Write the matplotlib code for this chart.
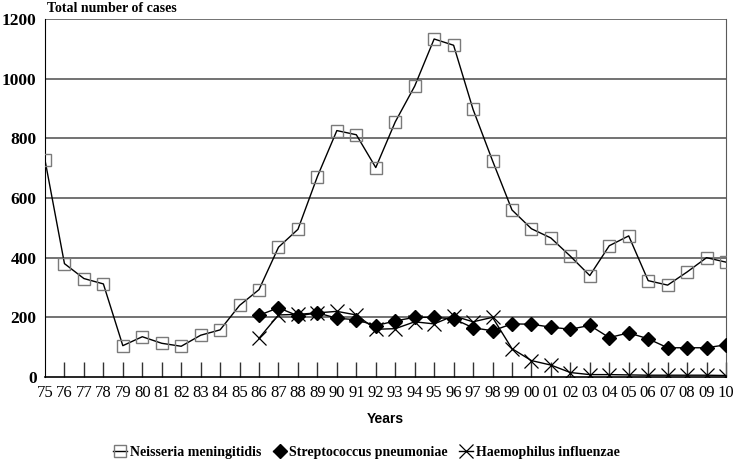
import matplotlib
matplotlib.use('Agg')
from matplotlib import pyplot as plt
import numpy as np

years = ['75','76','77','78','79','80','81','82','83','84','85','86','87','88','89',
         '90','91','92','93','94','95','96','97','98','99','00','01','02','03','04',
         '05','06','07','08','09','10']

neisseria = [727, 380, 330, 312, 105, 135, 113, 103, 140, 158, 240, 293, 435, 495, 672,
             826, 812, 702, 855, 975, 1133, 1112, 897, 725, 560, 497, 466, 405, 340, 440,
             473, 323, 308, 352, 400, 385]

# start in 1986
strepto = [207, 232, 205, 215, 197, 192, 172, 188, 200, 200, 195, 165, 155, 178, 177,
           167, 160, 173, 132, 148, 128, 98, 98, 98, 108]
haemo = [130, 208, 210, 215, 220, 208, 160, 162, 185, 178, 205, 185, 200, 95, 55,
         40, 15, 8, 8, 7, 6, 6, 6, 6, 5]

#####

serif = 'Liberation Serif'

fig = plt.figure(figsize=(7.33, 4.61), dpi=100)
ax = fig.add_axes([45/733, 1-377/461, 681/733, 358/461])

x = np.arange(len(years))
x86 = x[11:]

ax.plot(x, neisseria, color='black', linewidth=1.0, marker='s', markersize=9,
        markerfacecolor='none', markeredgecolor='#7a7a7a', markeredgewidth=1.0,
        label='Neisseria meningitidis', zorder=4)
ax.plot(x86, strepto, color='black', linewidth=1.0, marker='D', markersize=7,
        markerfacecolor='black', markeredgecolor='black',
        label='Streptococcus pneumoniae', zorder=4)
ax.plot(x86, haemo, color='black', linewidth=1.0, marker='x', markersize=10,
        markeredgewidth=0.9, label='Haemophilus influenzae', zorder=4)

for yv in [200, 400, 600, 800, 1000, 1200]:
    ax.axhline(yv, color='#5a5a5a', linewidth=1.2, zorder=1)

ax.set_xlim(0, len(years)-1)
ax.set_ylim(0, 1200)
ax.set_yticks([0, 200, 400, 600, 800, 1000, 1200])
ax.set_yticklabels(['0','200','400','600','800','1000','1200'],
                   fontsize=12.5, fontweight='bold', family=serif)
ax.set_xticks(x)
ax.set_xticklabels(years, fontsize=12, family=serif)
ax.tick_params(axis='x', direction='in', length=11, width=1, color='#333333', pad=6)
ax.tick_params(axis='y', length=0, pad=6)
ax.xaxis.get_major_ticks()[0].tick1line.set_visible(False)

ax.spines['top'].set_visible(False)
ax.spines['right'].set_color('#5a5a5a')
ax.spines['left'].set_color('black')
ax.spines['bottom'].set_color('black')
ax.spines['bottom'].set_linewidth(1.2)

ax.set_xlabel('Years', fontsize=10, fontweight='bold', family='Liberation Sans', labelpad=8)
fig.text(47/733, 1-9/461, 'Total number of cases', fontsize=10, fontweight='bold',
         family=serif, va='center', ha='left')

fig.legend(loc='center', bbox_to_anchor=(0.5, 1-452/461), ncol=3, frameon=False,
           prop={'family': serif, 'size': 10, 'weight': 'bold'},
           handlelength=1.0, handletextpad=0.2, columnspacing=0.8)

fig.savefig('out.png', dpi=100)
